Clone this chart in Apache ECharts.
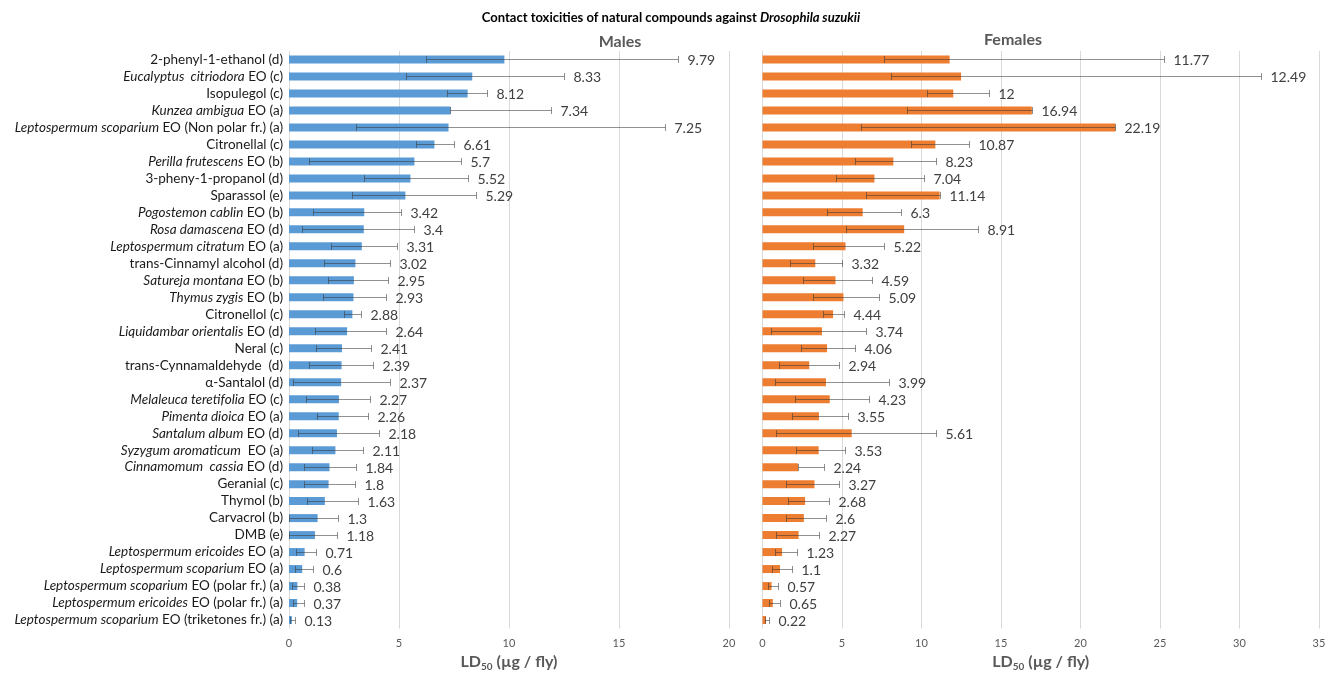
<!DOCTYPE html>
<html>
<head>
<meta charset="utf-8">
<script src="https://cdn.jsdelivr.net/npm/echarts@6/dist/echarts.min.js"></script>
<style>
  html, body { margin: 0; padding: 0; background: #fff; }
  #chart { width: 1336px; height: 673px; }
</style>
</head>
<body>
<div id="chart"></div>
<script>
// Compounds, top to bottom. Text between asterisks is set in italics.
const categories = [
  '2-phenyl-1-ethanol (d)',
  '*Eucalyptus  citriodora* EO (c)',
  'Isopulegol (c)',
  '*Kunzea ambigua* EO (a)',
  '*Leptospermum scoparium* EO (Non polar fr.) (a)',
  'Citronellal (c)',
  '*Perilla frutescens* EO (b)',
  '3-pheny-1-propanol (d)',
  'Sparassol (e)',
  '*Pogostemon cablin* EO (b)',
  '*Rosa damascena* EO (d)',
  '*Leptospermum citratum* EO (a)',
  'trans-Cinnamyl alcohol (d)',
  '*Satureja montana* EO (b)',
  '*Thymus zygis* EO (b)',
  'Citronellol (c)',
  '*Liquidambar orientalis* EO (d)',
  'Neral (c)',
  'trans-Cynnamaldehyde  (d)',
  'α-Santalol (d)',
  '*Melaleuca teretifolia* EO (c)',
  '*Pimenta dioica* EO (a)',
  '*Santalum album* EO (d)',
  '*Syzygum aromaticum*  EO (a)',
  '*Cinnamomum  cassia* EO (d)',
  'Geranial (c)',
  'Thymol (b)',
  'Carvacrol (b)',
  'DMB (e)',
  '*Leptospermum ericoides* EO (a)',
  '*Leptospermum scoparium* EO (a)',
  '*Leptospermum scoparium* EO (polar fr.) (a)',
  '*Leptospermum ericoides* EO (polar fr.) (a)',
  '*Leptospermum scoparium* EO (triketones fr.) (a)'
];

// LD50 (µg / fly) with lower and upper confidence limits
const maleLD50 = [9.79, 8.33, 8.12, 7.34, 7.25, 6.61, 5.7, 5.52, 5.29, 3.42, 3.4, 3.31, 3.02, 2.95, 2.93, 2.88, 2.64,
  2.41, 2.39, 2.37, 2.27, 2.26, 2.18, 2.11, 1.84, 1.8, 1.63, 1.3, 1.18, 0.71, 0.6, 0.38, 0.37, 0.13];
const maleLower = [6.24, 5.33, 7.17, 7.34, 3.04, 5.78, 0.9, 3.4, 2.87, 1.08, 0.6, 1.9, 1.58, 1.77, 1.55, 2.52, 1.19,
  1.24, 0.9, 0.17, 0.78, 1.27, 0.4, 1.04, 0.67, 0.67, 0.83, 0.02, 0.02, 0.33, 0.25, 0.15, 0.2, 0.05];
const maleUpper = [17.67, 12.49, 9.01, 11.92, 17.1, 7.52, 7.8, 8.14, 8.49, 5.08, 5.66, 4.9, 4.59, 4.48, 4.41, 3.27, 4.43,
  3.74, 3.83, 4.59, 3.66, 3.58, 4.1, 3.37, 3.04, 2.98, 3.13, 2.22, 2.17, 1.22, 1.08, 0.66, 0.69, 0.25];

const femaleLD50 = [11.77, 12.49, 12, 16.94, 22.19, 10.87, 8.23, 7.04, 11.14, 6.3, 8.91, 5.22, 3.32, 4.59, 5.09, 4.44, 3.74,
  4.06, 2.94, 3.99, 4.23, 3.55, 5.61, 3.53, 2.24, 3.27, 2.68, 2.6, 2.27, 1.23, 1.1, 0.57, 0.65, 0.22];
const femaleLower = [7.62, 8.08, 10.37, 9.08, 6.22, 9.32, 5.8, 4.61, 6.5, 4.05, 5.26, 3.17, 1.74, 2.54, 3.19, 3.8, 0.55,
  2.42, 1.01, 0.76, 2.04, 1.87, 0.88, 2.08, 2.24, 1.49, 1.58, 1.45, 0.88, 0.78, 0.59, 0.34, 0.42, 0.13];
const femaleUpper = [25.27, 31.38, 14.26, 16.94, 22.19, 12.97, 10.9, 10.16, 11.14, 8.73, 13.58, 7.62, 5.02, 6.89, 7.31, 5.1, 6.49,
  5.84, 4.81, 7.94, 6.7, 5.4, 10.9, 5.21, 3.87, 4.81, 4.16, 3.99, 3.57, 2.18, 1.85, 0.99, 1.13, 0.38];

const maleTicks = { min: 0, max: 20, interval: 5 };
const femaleTicks = { min: 0, max: 35, interval: 5 };

const FONT = 'Lato, "Liberation Sans", sans-serif';

const chart = echarts.init(document.getElementById('chart'), null, { renderer: 'canvas' });

function errorBarSeries(gridIdx, values, lower, upper) {
  return {
    type: 'custom',
    xAxisIndex: gridIdx,
    yAxisIndex: gridIdx,
    encode: { x: [1, 2], y: 0 },
    z: 5,
    data: values.map((v, i) => [i, lower[i], upper[i], v]),
    renderItem(params, api) {
      const idx = api.value(0);
      const p0 = api.coord([api.value(1), idx]);
      const p1 = api.coord([api.value(2), idx]);
      const y = Math.round(p0[1]) + 0.5;
      const x0 = Math.round(p0[0]) + 0.5;
      const x1 = Math.round(p1[0]) + 0.5;
      const stroke = { stroke: 'rgba(55,55,55,0.55)', lineWidth: 1 };
      return {
        type: 'group',
        children: [
          { type: 'line', shape: { x1: x0, y1: y, x2: x1, y2: y }, style: stroke },
          { type: 'line', shape: { x1: x0, y1: y - 3.5, x2: x0, y2: y + 3.5 }, style: stroke },
          { type: 'line', shape: { x1: x1, y1: y - 3.5, x2: x1, y2: y + 3.5 }, style: stroke },
          {
            type: 'text',
            style: {
              text: String(api.value(3)),
              x: x1 + 9, y: y + 1,
              verticalAlign: 'middle', align: 'left',
              fill: '#404040', fontSize: 14, fontFamily: FONT
            }
          }
        ]
      };
    }
  };
}

const axisName = {
  rich: {
    a: { fontSize: 16, fontWeight: 'bold', color: '#595959', fontFamily: FONT, lineHeight: 20 },
    s: { fontSize: 10, fontWeight: 'bold', color: '#595959', fontFamily: FONT, verticalAlign: 'bottom' }
  }
};

function xAxisFor(gridIdx, ticks) {
  return {
    type: 'value', gridIndex: gridIdx,
    min: ticks.min, max: ticks.max, interval: ticks.interval,
    name: '{a|LD}{s|50}{a| (µg / fly)}',
    nameLocation: 'middle', nameGap: 23,
    nameTextStyle: axisName,
    axisLine: { show: false }, axisTick: { show: false },
    axisLabel: { color: '#595959', fontSize: 11, fontFamily: FONT, margin: 9 },
    splitLine: { show: true, lineStyle: { color: '#d9d9d9', width: 1 } }
  };
}

const option = {
  animation: false,
  backgroundColor: '#ffffff',
  grid: [
    { left: 289, right: 607, top: 51, bottom: 44.5, outerBoundsMode: 'none', containLabel: false },
    { left: 762.5, right: 17, top: 51, bottom: 44.5, outerBoundsMode: 'none', containLabel: false }
  ],
  xAxis: [xAxisFor(0, maleTicks), xAxisFor(1, femaleTicks)],
  yAxis: [
    {
      type: 'category', gridIndex: 0, data: categories, inverse: true,
      axisLine: { show: false }, axisTick: { show: false },
      axisLabel: {
        interval: 0,
        margin: 6, fontSize: 13.5, color: '#1a1a1a', fontFamily: FONT,
        formatter: (v) => v.replace(/\*([^*]+)\*/g, '{i|$1}'),
        rich: { i: { fontStyle: 'italic', fontSize: 13.5, color: '#1a1a1a', fontFamily: FONT } }
      }
    },
    {
      type: 'category', gridIndex: 1, data: categories, inverse: true,
      axisLine: { show: false }, axisTick: { show: false }, axisLabel: { show: false }
    }
  ],
  graphic: [
    {
      type: 'text', x: 671, y: 18,
      style: {
        text: '{b|Contact toxicities of natural compounds against }{bi|Drosophila suzukii}',
        align: 'center', verticalAlign: 'middle',
        rich: {
          b: { fontSize: 13, fontWeight: 'bold', fill: '#000', fontFamily: FONT },
          bi: { fontSize: 13, fontWeight: 'bold', fontStyle: 'italic', fill: '#000', fontFamily: FONT }
        }
      }
    },
    {
      type: 'text', x: 620, y: 42,
      style: { text: 'Males', align: 'center', verticalAlign: 'middle', fontSize: 16, fontWeight: 'bold', fill: '#595959', fontFamily: FONT }
    },
    {
      type: 'text', x: 1013, y: 40,
      style: { text: 'Females', align: 'center', verticalAlign: 'middle', fontSize: 16, fontWeight: 'bold', fill: '#595959', fontFamily: FONT }
    }
  ],
  series: [
    {
      type: 'bar', xAxisIndex: 0, yAxisIndex: 0, data: maleLD50,
      barWidth: 8, itemStyle: { color: '#5b9bd5' }, z: 2
    },
    errorBarSeries(0, maleLD50, maleLower, maleUpper),
    {
      type: 'bar', xAxisIndex: 1, yAxisIndex: 1, data: femaleLD50,
      barWidth: 8, itemStyle: { color: '#ed7d31' }, z: 2
    },
    errorBarSeries(1, femaleLD50, femaleLower, femaleUpper)
  ]
};

chart.setOption(option);
</script>
</body>
</html>
